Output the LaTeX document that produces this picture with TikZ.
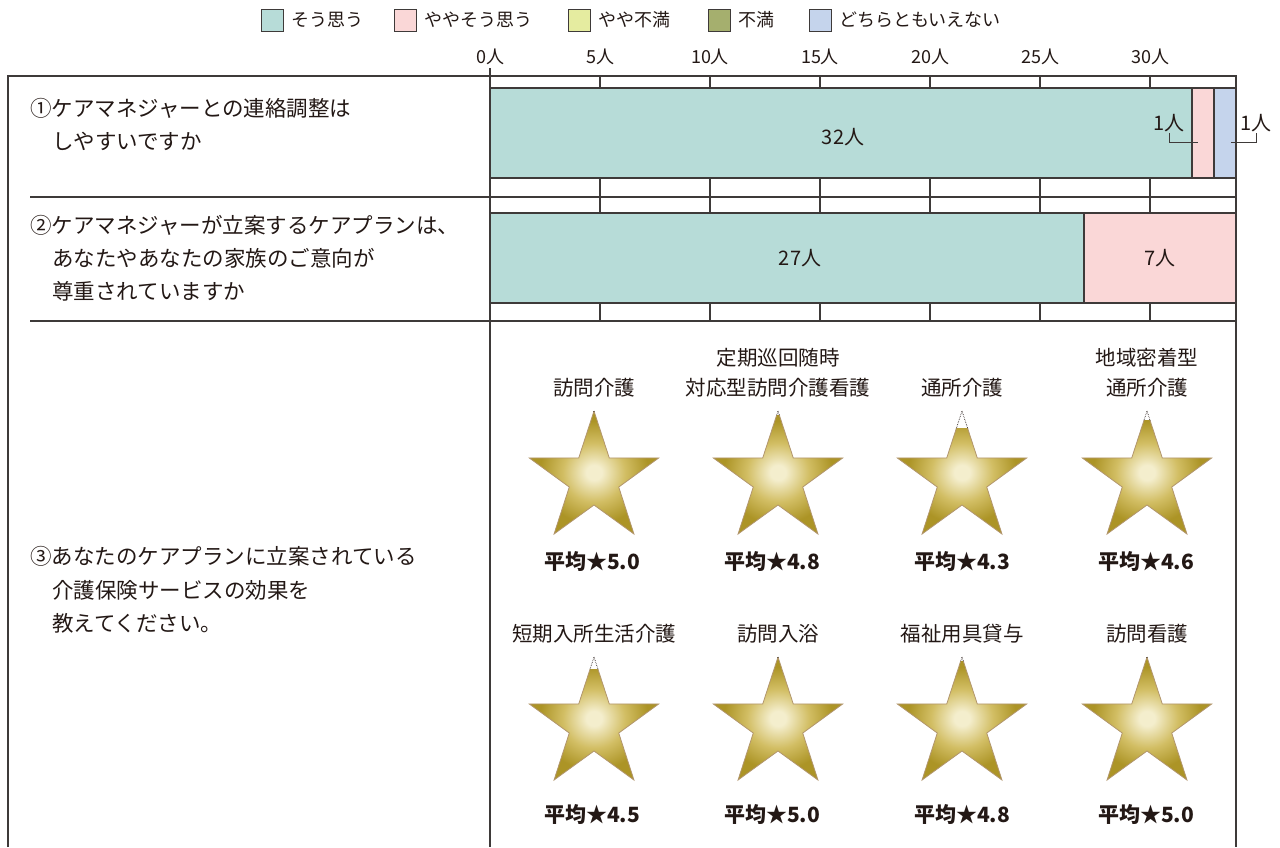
\documentclass[tikz,border=0pt]{standalone}
\usepackage{fontspec}
\setmainfont{Noto Sans CJK JP}
\definecolor{tealc}{RGB}{183,220,216}
\definecolor{pinkc}{RGB}{250,215,215}
\definecolor{ygreenc}{RGB}{229,236,160}
\definecolor{olivec}{RGB}{165,175,110}
\definecolor{bluec}{RGB}{197,212,236}
\definecolor{linec}{RGB}{62,58,57}
\definecolor{textc}{RGB}{35,24,21}
\definecolor{starlight}{RGB}{244,238,205}
\definecolor{starmid}{RGB}{210,190,100}
\definecolor{stardark}{RGB}{172,148,38}
\definecolor{starline}{RGB}{178,150,110}
\pgfdeclareradialshading{stargold}{\pgfpoint{0bp}{0bp}}{color(0bp)=(starlight); color(3bp)=(starlight); color(12bp)=(starmid); color(21bp)=(stardark); color(50bp)=(stardark)}
\newcommand\fs[1]{\fontsize{#1}{#1}\selectfont}
\newcommand\starpath[1]{(#1) +(270:68) -- +(306:26) -- +(342:68) -- +(18:26) -- +(54:68) -- +(90:26) -- +(126:68) -- +(162:26) -- +(198:68) -- +(234:26) -- cycle}
\newcommand\goldstar[4]{%
  \coordinate (#1) at (#2,#3);
  \pgfmathsetmacro\cuty{#3-68+(1-#4/5)*123}
  \begin{scope}
    \clip (#2-75,\cuty) rectangle (#2+75,#3+62);
    \shade[shading=stargold, draw=starline, line width=0.8pt] \starpath{#1};
  \end{scope}
  \begin{scope}
    \clip (#2-75,#3-75) rectangle (#2+75,\cuty);
    \draw[densely dotted, line width=0.7pt, textc] \starpath{#1};
  \end{scope}
}
\tikzset{
  txt/.style={inner sep=0pt, text=textc, font=\fs{#1}, text height=0.88*#1pt, text depth=0.12*#1pt},
  lefttxt/.style={txt=21.5, anchor=west},
  legtxt/.style={txt=18, anchor=west},
  axtxt/.style={txt=18},
  bartxt/.style={txt=20},
  svctxt/.style={txt=20.5},
  scoretxt/.style={txt=21, font=\bfseries\fs{21}},
  legbox/.style={draw=linec, line width=0.9pt},
  frame/.style={draw=linec, line width=1.2pt},
  barline/.style={draw=linec, line width=1.1pt},
  leader/.style={draw=linec, line width=0.9pt},
}
\begin{document}
\begin{tikzpicture}[x=1pt,y=-1pt]
\useasboundingbox (0,0) rectangle (1280,847);
% legend
\draw[legbox, fill=tealc] (261,9) rectangle (283,31);
\node[legtxt] (lg1) at (291,20) {そう思う};
\draw[legbox, fill=pinkc] (394,9) rectangle (416,31);
\node[legtxt] (lg2) at (424,20) {ややそう思う};
\draw[legbox, fill=ygreenc] (568,9) rectangle (590,31);
\node[legtxt] (lg3) at (598,20) {やや不満};
\draw[legbox, fill=olivec] (708,9) rectangle (730,31);
\node[legtxt] (lg4) at (738,20) {不満};
\draw[legbox, fill=bluec] (809,9) rectangle (831,31);
\node[legtxt] (lg5) at (839,20) {どちらともいえない};
% axis labels
\foreach \k/\v in {0/0,1/5,2/10,3/15,4/20,5/25,6/30}{
  \node[axtxt] (ax\k) at (490+110*\k,57) {\v 人};
}
% bars
\draw[barline, fill=tealc] (490,88) rectangle (1192,178);
\draw[barline, fill=pinkc] (1192,88) rectangle (1214,178);
\draw[barline, fill=bluec] (1214,88) rectangle (1236,178);
\draw[barline, fill=tealc] (490,213) rectangle (1084,303);
\draw[barline, fill=pinkc] (1084,213) rectangle (1236,303);
% frame
\draw[frame] (8,847) -- (8,76) -- (1236,76) -- (1236,847);
\draw[frame] (490,68) -- (490,847);
\draw[frame] (30,197) -- (1236,197);
\draw[frame] (30,321) -- (1236,321);
\foreach \k in {1,...,6}{
  \draw[frame] (490+110*\k,76) -- (490+110*\k,88);
  \draw[frame] (490+110*\k,178) -- (490+110*\k,213);
  \draw[frame] (490+110*\k,303) -- (490+110*\k,321);
}
% bar labels
\node[bartxt] (b32) at (843,137) {32人};
\node[bartxt] (b27) at (800,258) {27人};
\node[bartxt] (b7) at (1160,258) {7人};
\node[bartxt] (l1a) at (1169,123) {1人};
\node[bartxt] (l1b) at (1256,123) {1人};
\coordinate (p1) at (1198,142);
\coordinate (p2) at (1231,142);
\draw[leader] (l1a.south) |- (p1);
\draw[leader] (l1b.south) |- (p2);
% questions
\node[lefttxt] (q1a) at (30,108) {①ケアマネジャーとの連絡調整は};
\node[lefttxt] (q1b) at (52,141) {しやすいですか};
\node[lefttxt] (q2a) at (30,225) {②ケアマネジャーが立案するケアプランは、};
\node[lefttxt] (q2b) at (52,258) {あなたやあなたの家族のご意向が};
\node[lefttxt] (q2c) at (52,291) {尊重されていますか};
\node[lefttxt] (q3a) at (30,556) {③あなたのケアプランに立案されている};
\node[lefttxt] (q3b) at (52,590) {介護保険サービスの効果を};
\node[lefttxt] (q3c) at (52,623) {教えてください。};
% stars
\goldstar{s1}{594}{479}{5.0}
\goldstar{s2}{778}{479}{4.8}
\goldstar{s3}{962}{479}{4.3}
\goldstar{s4}{1147}{479}{4.6}
\goldstar{s5}{594}{725}{4.5}
\goldstar{s6}{778}{725}{5.0}
\goldstar{s7}{962}{725}{4.8}
\goldstar{s8}{1147}{725}{5.0}
% service labels
\node[svctxt] (t1) at (594,388) {訪問介護};
\node[svctxt] (t2a) at (778,358) {定期巡回随時};
\node[svctxt] (t2b) at (778,388) {対応型訪問介護看護};
\node[svctxt] (t3) at (962,388) {通所介護};
\node[svctxt] (t4a) at (1147,358) {地域密着型};
\node[svctxt] (t4b) at (1147,388) {通所介護};
\node[svctxt] (t5) at (594,634) {短期入所生活介護};
\node[svctxt] (t6) at (778,634) {訪問入浴};
\node[svctxt] (t7) at (962,634) {福祉用具貸与};
\node[svctxt] (t8) at (1147,634) {訪問看護};
% scores
\node[scoretxt] (v1) at (592,562) {平均★5.0};
\node[scoretxt] (v2) at (772,562) {平均★4.8};
\node[scoretxt] (v3) at (962,562) {平均★4.3};
\node[scoretxt] (v4) at (1146,562) {平均★4.6};
\node[scoretxt] (v5) at (592,815) {平均★4.5};
\node[scoretxt] (v6) at (772,815) {平均★5.0};
\node[scoretxt] (v7) at (962,815) {平均★4.8};
\node[scoretxt] (v8) at (1146,815) {平均★5.0};
\end{tikzpicture}
\end{document}
